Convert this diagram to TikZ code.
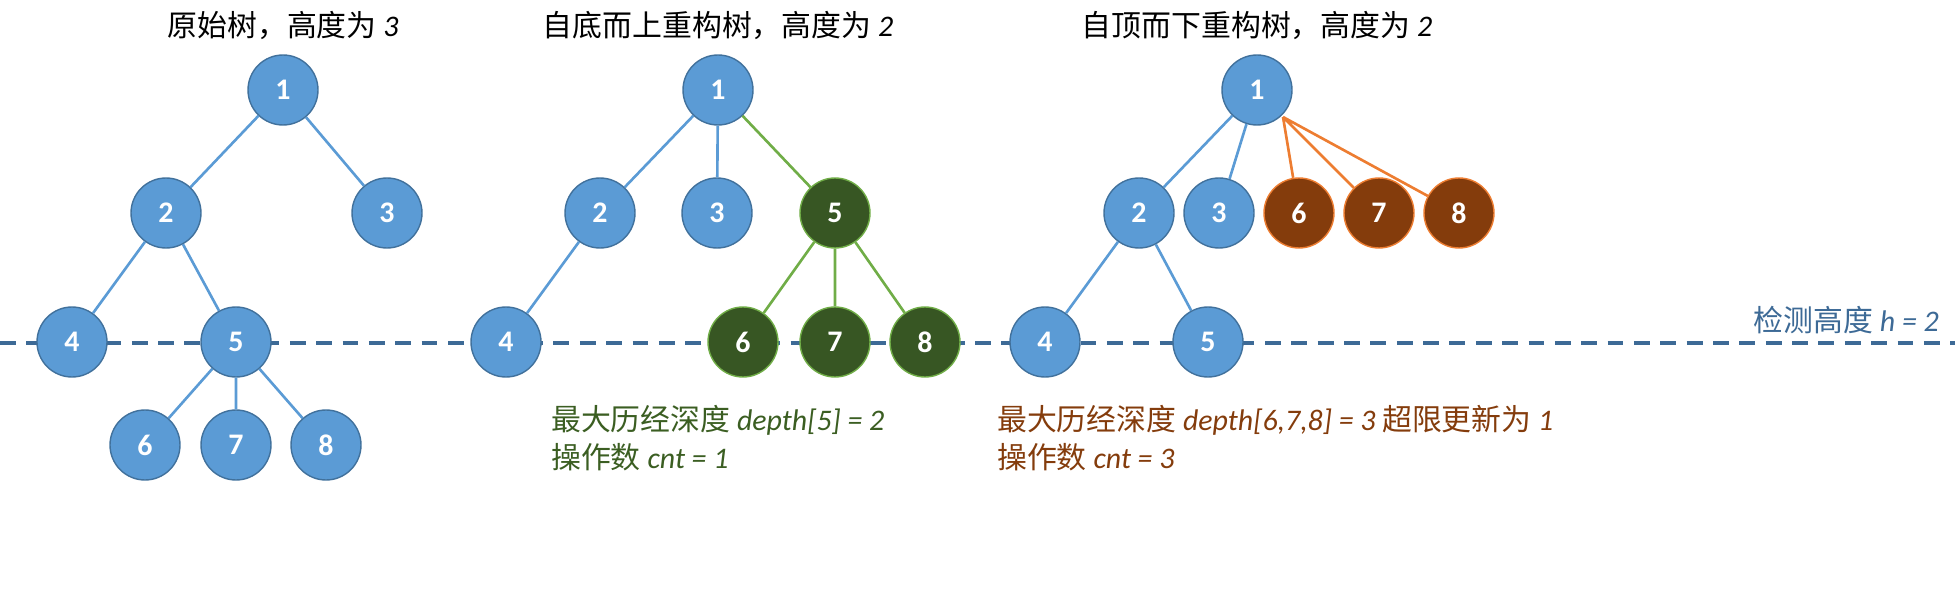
\documentclass[tikz,border=0pt]{standalone}
\usepackage{fontspec}
\setmainfont{Noto Sans CJK SC}
\newfontfamily\latf{Carlito}
\newcommand{\li}[1]{{\latf\itshape #1}}
\begin{document}
\begin{tikzpicture}[x=0.02cm,y=-0.02cm,
 nd/.style={circle,minimum size=1.4cm,inner sep=0pt,fill=bfill,draw=bline,line width=0.8pt,text=white,font=\latf\fontsize{17}{17}\selectfont\bfseries},
 gn/.style={nd,fill=gfill,draw=gline},
 br/.style={nd,fill=brfill,draw=orline},
 be/.style={draw=bfill,line width=1.5pt},
 ge/.style={draw=gline,line width=1.5pt},
 oe/.style={draw=orline,line width=1.5pt},
 ttl/.style={font=\fontsize{17}{17}\selectfont},
 lbl/.style={font=\fontsize{17}{22}\selectfont,anchor=west,align=left}]
\definecolor{bfill}{HTML}{5B9BD5}
\definecolor{bline}{HTML}{41719C}
\definecolor{gfill}{HTML}{375623}
\definecolor{gline}{HTML}{70AD47}
\definecolor{brfill}{HTML}{843C0C}
\definecolor{orline}{HTML}{ED7D31}
\definecolor{dashc}{HTML}{3D6A96}
\definecolor{gtxt}{HTML}{3B5E22}
\definecolor{btxt}{HTML}{843C0C}
\useasboundingbox (0,0) rectangle (1955,601);
\draw[draw=dashc,line width=2pt,dash pattern=on 9pt off 6pt] (0,343) -- (1955,343);
\node[ttl] (t1) at (283,25) {原始树，高度为 \li{3}};
\node[ttl] (t2) at (718,25) {自底而上重构树，高度为 \li{2}};
\node[ttl] (t3) at (1257,25) {自顶而下重构树，高度为 \li{2}};
\node[font=\fontsize{17}{17}\selectfont,text=dashc,anchor=east] (h) at (1945,320) {检测高度 \li{h = 2}};
% tree 1
\node[nd] (a1) at (283,90) {1};
\node[nd] (a2) at (166,213) {2};
\node[nd] (a3) at (387,213) {3};
\node[nd] (a4) at (72,342) {4};
\node[nd] (a5) at (236,342) {5};
\node[nd] (a6) at (145,445) {6};
\node[nd] (a7) at (236,445) {7};
\node[nd] (a8) at (326,445) {8};
\draw[be] (a1)--(a2) (a1)--(a3) (a2)--(a4) (a2)--(a5) (a5)--(a6) (a5)--(a7) (a5)--(a8);
% tree 2
\node[nd] (b1) at (718,90) {1};
\node[nd] (b2) at (600,213) {2};
\node[nd] (b3) at (717,213) {3};
\node[gn] (b5) at (835,213) {5};
\node[nd] (b4) at (506,342) {4};
\node[gn] (b6) at (743,342) {6};
\node[gn] (b7) at (835,342) {7};
\node[gn] (b8) at (925,342) {8};
\draw[be] (b1)--(b2) (b1)--(b3) (b2)--(b4);
\draw[ge] (b1)--(b5) (b5)--(b6) (b5)--(b7) (b5)--(b8);
% tree 3
\node[nd] (c1) at (1257,90) {1};
\node[nd] (c2) at (1139,213) {2};
\node[nd] (c3) at (1219,213) {3};
\node[br] (c6) at (1299,213) {6};
\node[br] (c7) at (1379,213) {7};
\node[br] (c8) at (1459,213) {8};
\node[nd] (c4) at (1045,342) {4};
\node[nd] (c5) at (1208,342) {5};
\draw[be] (c1)--(c2) (c1)--(c3) (c2)--(c4) (c2)--(c5);
\coordinate (cp) at (1283,117);
\draw[oe] (cp)--(c6) (cp)--(c7) (cp)--(c8);
\node[lbl,text=gtxt] (g) at (545,438) {最大历经深度 \li{depth[5] = 2}\\操作数 \li{cnt = 1}};
\node[lbl,text=btxt] (o) at (991,438) {最大历经深度 \li{depth[6,7,8] = 3} 超限更新为 \li{1}\\操作数 \li{cnt = 3}};
\end{tikzpicture}
\end{document}
